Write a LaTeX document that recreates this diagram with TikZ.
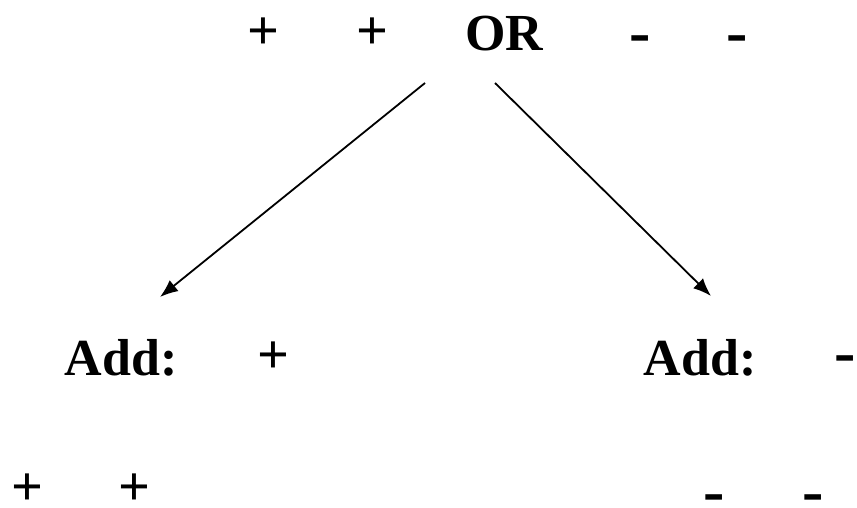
\documentclass[tikz,border=0pt]{standalone}
\usepackage{fontspec}
\setmainfont{Liberation Serif}
\usetikzlibrary{arrows.meta}
\newcommand{\bigplus}{\fontsize{56}{60}\selectfont\bfseries +}
\newcommand{\bigminus}{\fontsize{64}{70}\selectfont\bfseries -}

\begin{document}
\begin{tikzpicture}[x=1pt,y=-1pt,
  sgn/.style={anchor=base,inner sep=0pt},
  wrd/.style={anchor=base,inner sep=0pt,font=\fontsize{52}{58}\selectfont\bfseries},
  arr/.style={line width=1.8pt,-{Latex[length=18pt,width=14pt]}}]
\useasboundingbox (0,0) rectangle (857,508);
% top row
\node[sgn] (p1) at (263,50) {\bigplus};
\node[sgn] (p2) at (372,50) {\bigplus};
\node[wrd] (or) at (504,51) {OR};
\node[sgn] (m1) at (640,54) {\bigminus};
\node[sgn] (m2) at (737,54) {\bigminus};
% middle row
\node[wrd] (addl) at (121,375) {Add:};
\node[sgn] (p3) at (273,373) {\bigplus};
\node[wrd] (addr) at (700,375) {Add:};
\node[sgn] (m3) at (845,373) {\bigminus};
% bottom row
\node[sgn] (p4) at (27,505) {\bigplus};
\node[sgn] (p5) at (134,505) {\bigplus};
\node[sgn] (m4) at (714,512) {\bigminus};
\node[sgn] (m5) at (813,512) {\bigminus};
% arrows
\draw[arr] ([shift={(-79,32)}]or.base) -- ([shift={(39,-78)}]addl.base);
\draw[arr] ([shift={(-9,32)}]or.base) -- ([shift={(11,-79)}]addr.base);
\end{tikzpicture}
\end{document}
